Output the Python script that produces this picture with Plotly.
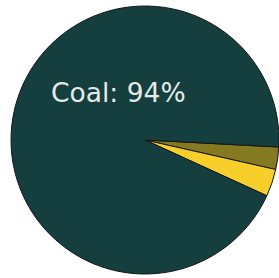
import plotly.graph_objects as go

labels = ["Oil", "Natural gas", "Coal"]
values = [2.7, 3.3, 94]
colors = ["#857a1f", "#f7cf2b", "#143f3e"]

fig = go.Figure(go.Pie(
    labels=labels,
    values=values,
    sort=False,
    direction="clockwise",
    rotation=93,
    textinfo="none",
    marker=dict(colors=colors, line=dict(color="#151515", width=1)),
    domain=dict(x=[11 / 279, 1.0], y=[4 / 278, 272 / 278]),
    showlegend=False,
))

fig.add_annotation(
    text=f"{labels[2]}: {values[2]}%",
    x=49 / 279, y=1 - 93 / 278, xref="paper", yref="paper",
    xanchor="left", yanchor="middle", showarrow=False,
    font=dict(family="DejaVu Sans", size=26.5, color="#e6e9e6"),
)

fig.update_layout(
    width=279, height=278,
    margin=dict(l=0, r=0, t=0, b=0),
    paper_bgcolor="white", plot_bgcolor="white",
)

fig.write_html("out.html", config={"displayModeBar": False},
               post_script="document.body.style.margin='0';")
